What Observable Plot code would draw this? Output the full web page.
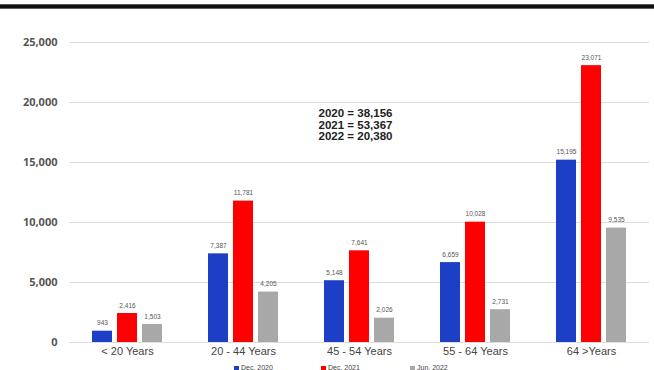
<!DOCTYPE html>
<html>
<head>
<meta charset="utf-8">
<script src="https://cdn.jsdelivr.net/npm/d3@7"></script>
<script src="https://cdn.jsdelivr.net/npm/@observablehq/plot@0.6"></script>
<style>
  html, body { margin: 0; padding: 0; background: #fff; width: 654px; height: 370px; overflow: hidden; }
  #wrap { position: relative; width: 654px; }
  #topline { position: absolute; left: 0; top: 4px; width: 654px; height: 5px;
    background: linear-gradient(#777, #111 30%, #111 70%, #888); }
  #legend { height: 12px; font-family: "Liberation Sans", Arial, sans-serif;
    font-size: 7px; color: #444; line-height: 12px; position: relative; }
  #legend .item { position: absolute; top: 0; display: flex; align-items: center; }
  #legend .sw { width: 5px; height: 5px; margin-right: 2px; }
</style>
</head>
<body>
<div id="wrap">
  <div id="chart"></div>
  <div id="legend"></div>
  <div id="topline"></div>
</div>
<script>
const categories = ["< 20 Years", "20 - 44 Years", "45 - 54 Years", "55 - 64 Years", "64 >Years"];
const series = ["Dec. 2020", "Dec. 2021", "Jun. 2022"];
const dec2020 = [943, 7387, 5148, 6659, 15195];
const dec2021 = [2416, 11781, 7641, 10028, 23071];
const jun2022 = [1503, 4205, 2026, 2731, 9535];
const colors = ["#1c3fc6", "#ff0000", "#a8a8a8"];
const yTicks = [0, 5000, 10000, 15000, 20000, 25000];
const summary = ["2020 = 38,156", "2021 = 53,367", "2022 = 20,380"];

const seriesValues = [dec2020, dec2021, jun2022];
const rows = [];
categories.forEach((c, i) => series.forEach((s, j) => rows.push({age: c, series: s, value: seriesValues[j][i]})));

const fmt = d3.format(",");
const chart = Plot.plot({
  width: 654,
  height: 362,
  marginTop: 42,
  marginBottom: 20,
  marginLeft: 68,
  marginRight: 4,
  facet: {data: rows, x: "age"},
  fx: {domain: categories, padding: 0, label: null, axis: "bottom", tickSize: 0, tickPadding: 5},
  x: {domain: series, paddingInner: 0.205, paddingOuter: 0.85, axis: null},
  y: {domain: [0, 25000], ticks: yTicks, tickFormat: d => fmt(d), tickSize: 0, tickPadding: 12, label: null},
  color: {domain: series, range: colors},
  style: {fontFamily: "'Liberation Sans', Arial, sans-serif", fontSize: "11px", color: "#444", background: "transparent"},
  marks: [
    Plot.ruleY(yTicks, {stroke: "#dedede", strokeWidth: 1}),
    Plot.barY(rows, {x: "series", y: "value", fill: "series"}),
    Plot.text(rows, {x: "series", y: "value", text: d => fmt(d.value), dy: -8, fontSize: 6.5, fill: "#555"}),
    Plot.text(rows, {
      filter: d => d.age === categories[2] && d.series === series[1],
      x: "series", frameAnchor: "top", dy: 66, dx: -4,
      text: () => summary.join("\n"), lineHeight: 1.02, fontSize: 11.5, fontWeight: "bold", fill: "#222"
    })
  ]
});
document.getElementById("chart").appendChild(chart);
chart.querySelectorAll('[aria-label="y-axis tick label"]').forEach(n => {
  n.setAttribute("font-weight", "bold"); n.setAttribute("fill", "#555");
  n.setAttribute("font-family", "'Open Sans', sans-serif");
});

const legend = document.getElementById("legend");
const lx = [234, 321, 410];
series.forEach((s, j) => {
  const it = document.createElement("div");
  it.className = "item";
  it.style.left = lx[j] + "px";
  it.innerHTML = `<span class="sw" style="background:${colors[j]}"></span><span>${s}</span>`;
  legend.appendChild(it);
});
</script>
</body>
</html>
